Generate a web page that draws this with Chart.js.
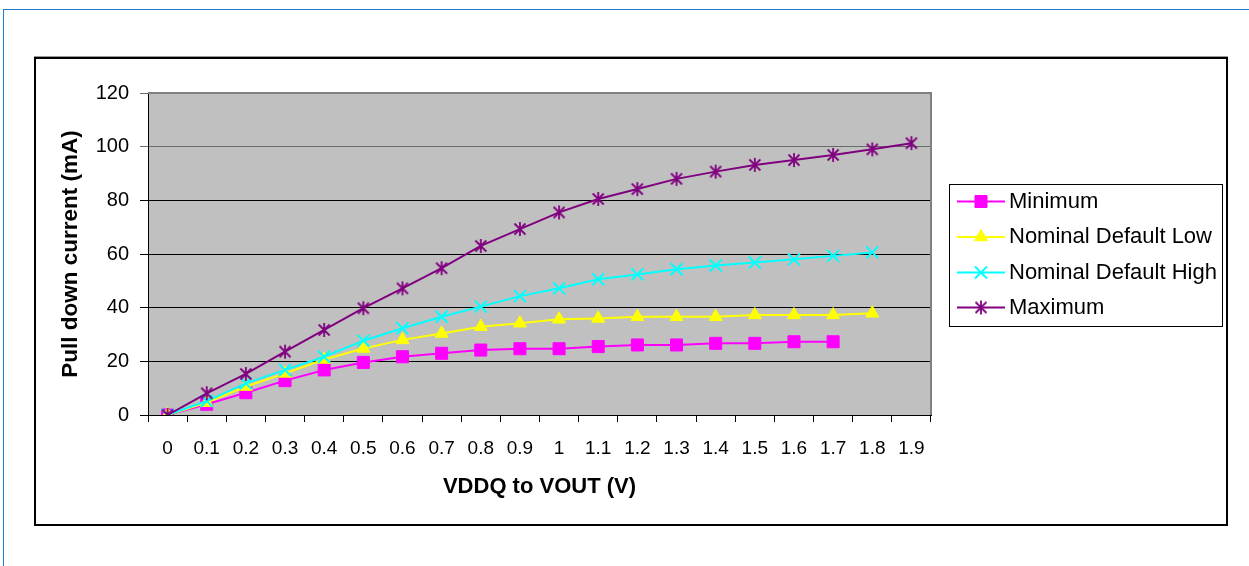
<!DOCTYPE html>
<html>
<head>
<meta charset="utf-8">
<script src="https://cdn.jsdelivr.net/npm/chart.js@4/dist/chart.umd.min.js"></script>
<style>
  html, body { margin: 0; padding: 0; background: #fff; }
  body { width: 1249px; height: 566px; position: relative; overflow: hidden; }
  #frame { position: absolute; left: 3px; top: 9px; right: 0; bottom: 0;
           border-top: 1px solid #1f78d1; border-left: 1px solid #1f78d1; }
  #box { position: absolute; left: 34px; top: 57px; width: 1190px; height: 465px;
         border: 2px solid #000; box-shadow: 0 -1px 0 #999; }
  #wrap { position: absolute; left: 0; top: 0; width: 1249px; height: 566px; }
</style>
</head>
<body>
<div id="frame"></div>
<div id="box"></div>
<div id="wrap"><canvas id="c" width="1249" height="566"></canvas></div>
<script>
const categories = ['0','0.1','0.2','0.3','0.4','0.5','0.6','0.7','0.8','0.9','1','1.1','1.2','1.3','1.4','1.5','1.6','1.7','1.8','1.9'];
const yTicks = [0, 20, 40, 60, 80, 100, 120];
const seriesNames = ['Minimum', 'Nominal Default Low', 'Nominal Default High', 'Maximum'];
const minimum = [0, 4.0, 8.3, 12.8, 16.8, 19.6, 21.7, 23.0, 24.2, 24.7, 24.7, 25.5, 26.1, 26.1, 26.7, 26.7, 27.3, 27.3];
const nominalLow = [0, 4.6, 10.6, 15.5, 20.7, 24.8, 28.0, 30.4, 32.9, 34.2, 35.7, 36.0, 36.6, 36.6, 36.6, 37.3, 37.3, 37.3, 37.9];
const nominalHigh = [0, 5.2, 11.8, 16.8, 21.7, 27.7, 32.3, 36.6, 40.4, 44.3, 47.2, 50.6, 52.4, 54.3, 55.7, 56.8, 58.0, 59.3, 60.6];
const maximum = [0, 8.1, 15.3, 23.6, 31.7, 39.8, 47.2, 54.7, 63.0, 69.3, 75.5, 80.5, 84.2, 88.0, 90.7, 93.2, 95.0, 96.9, 99.0, 101.3];

// Excel-style asterisk marker (X plus vertical bar)
function makeStar(color) {
  const c = document.createElement('canvas');
  c.width = 16; c.height = 16;
  const g = c.getContext('2d');
  g.strokeStyle = color; g.lineWidth = 1.8; g.lineCap = 'butt';
  g.beginPath();
  g.moveTo(2.5, 2.5); g.lineTo(13.5, 13.5);
  g.moveTo(13.5, 2.5); g.lineTo(2.5, 13.5);
  g.moveTo(8, 1); g.lineTo(8, 15);
  g.stroke();
  return c;
}
const starImg = makeStar('#800080');

const FONT = "'Liberation Sans', Arial, Helvetica, sans-serif";

const bgPlugin = {
  id: 'bg',
  beforeDraw(chart) {
    const {ctx, chartArea: a} = chart;
    ctx.save();
    ctx.fillStyle = '#c0c0c0';
    ctx.fillRect(a.left, a.top, a.right - a.left, a.bottom - a.top);
    ctx.restore();
  },
  beforeDatasetsDraw(chart) {
    const {ctx, chartArea: a} = chart;
    ctx.save();
    ctx.strokeStyle = '#808080';
    ctx.lineWidth = 2;
    ctx.beginPath();
    ctx.moveTo(a.left, a.top); ctx.lineTo(a.right, a.top); ctx.lineTo(a.right, a.bottom);
    ctx.stroke();
    ctx.restore();
  }
};

const legendPlugin = {
  id: 'customLegend',
  afterDraw(chart) {
    const ctx = chart.ctx;
    const bx = 949.5, by = 184.5, bw = 273, bh = 142;
    ctx.save();
    ctx.fillStyle = '#fff';
    ctx.fillRect(bx, by, bw, bh);
    ctx.strokeStyle = '#000';
    ctx.lineWidth = 1;
    ctx.strokeRect(bx, by, bw, bh);
    const rows = [201.5, 237, 272.5, 307.5];
    chart.data.datasets.forEach((ds, i) => {
      const y = rows[i];
      ctx.strokeStyle = ds.borderColor;
      ctx.lineWidth = ds.borderWidth;
      ctx.beginPath();
      ctx.moveTo(957, y); ctx.lineTo(1005, y);
      ctx.stroke();
      const opts = {
        pointStyle: ds.pointStyle, radius: ds.pointRadius, rotation: 0,
        borderWidth: ds.pointBorderWidth
      };
      ctx.fillStyle = ds.pointBackgroundColor;
      ctx.strokeStyle = ds.pointBorderColor;
      ctx.lineWidth = ds.pointBorderWidth;
      Chart.helpers.drawPoint(ctx, opts, 981, y);
      ctx.fillStyle = '#000';
      ctx.font = '22px ' + FONT;
      ctx.textBaseline = 'middle';
      ctx.textAlign = 'left';
      ctx.fillText(seriesNames[i], 1009, y);
    });
    ctx.restore();
  }
};

const gridCol = (ctx) => {
  const v = ctx.tick ? ctx.tick.value : null;
  return (v === 100 || v === 120) ? '#6a6a6a' : '#000';
};

new Chart(document.getElementById('c'), {
  type: 'line',
  data: {
    labels: categories,
    datasets: [
      { label: seriesNames[0], data: minimum, borderColor: '#ff00ff', borderWidth: 2,
        pointStyle: 'rect', pointRadius: 8.5, pointBackgroundColor: '#ff00ff',
        pointBorderColor: '#ff00ff', pointBorderWidth: 1, order: 3, tension: 0 },
      { label: seriesNames[1], data: nominalLow, borderColor: '#ffff00', borderWidth: 2,
        pointStyle: 'triangle', pointRadius: 7.5, pointBackgroundColor: '#ffff00',
        pointBorderColor: '#ffff00', pointBorderWidth: 1, order: 2, tension: 0 },
      { label: seriesNames[2], data: nominalHigh, borderColor: '#00ffff', borderWidth: 2,
        pointStyle: 'crossRot', pointRadius: 8.5, pointBackgroundColor: '#00ffff',
        pointBorderColor: '#00ffff', pointBorderWidth: 2, order: 1, tension: 0 },
      { label: seriesNames[3], data: maximum, borderColor: '#800080', borderWidth: 2,
        pointStyle: starImg, pointRadius: 8, pointBackgroundColor: '#800080',
        pointBorderColor: '#800080', pointBorderWidth: 1, order: 0, tension: 0 }
    ]
  },
  options: {
    responsive: false,
    animation: false,
    events: [],
    layout: { padding: { top: 93, right: 318, bottom: 0, left: 0 } },
    plugins: { legend: { display: false }, tooltip: { enabled: false }, title: { display: false } },
    scales: {
      x: {
        type: 'category',
        offset: true,
        afterFit(scale) { scale.height = 151; },
        grid: { display: true, offset: true, drawOnChartArea: false, drawTicks: true,
                tickLength: 7, color: '#000', tickColor: '#000' },
        border: { display: true, color: '#000', width: 1 },
        ticks: { color: '#000', font: { family: FONT, size: 19 }, padding: 15,
                 maxRotation: 0, minRotation: 0, autoSkip: false },
        title: { display: true, text: 'VDDQ to VOUT (V)', color: '#000',
                 font: { family: FONT, size: 22, weight: 'bold' },
                 padding: { top: 0, bottom: 66 } }
      },
      y: {
        min: 0, max: 120,
        afterFit(scale) { scale.width = 148; },
        afterBuildTicks(scale) { scale.ticks = yTicks.map(v => ({ value: v })); },
        grid: { color: gridCol, tickColor: gridCol, tickLength: 8, lineWidth: 1 },
        border: { display: true, color: '#000', width: 1 },
        ticks: { color: '#000', font: { family: FONT, size: 20 }, padding: 11 },
        title: { display: true, text: 'Pull down current (mA)', color: '#000',
                 font: { family: FONT, size: 22.5, weight: 'bold' },
                 padding: { top: 57.5, bottom: 0 } }
      }
    }
  },
  plugins: [bgPlugin, legendPlugin]
});
</script>
</body>
</html>
